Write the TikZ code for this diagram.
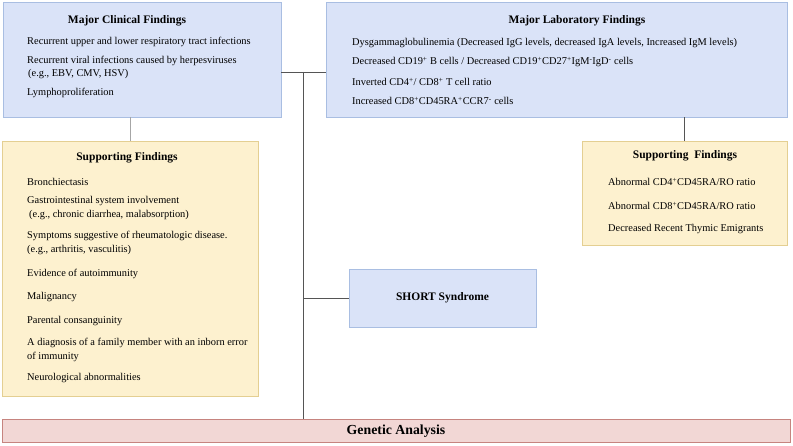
\documentclass[tikz,border=0pt]{standalone}
\usepackage{fontspec}
\setmainfont{Liberation Serif}
\usetikzlibrary{positioning, calc}

\definecolor{majorfill}{HTML}{DAE3F8}
\definecolor{majorline}{HTML}{A9BEE2}
\definecolor{suppfill}{HTML}{FDF1CF}
\definecolor{suppline}{HTML}{E4CF92}
\definecolor{genfill}{HTML}{F2D7D5}
\definecolor{genline}{HTML}{C6847F}
\definecolor{wire}{HTML}{555555}

\tikzset{
  box/.style={draw, rectangle, inner sep=0pt, line width=0.8pt},
  major/.style={box, fill=majorfill, draw=majorline},
  supp/.style={box, fill=suppfill, draw=suppline},
  title/.style={font=\fontsize{11.5}{13}\selectfont\bfseries},
  item/.style={anchor=west, inner sep=0pt, font=\fontsize{10.4}{12}\selectfont},
  wireline/.style={draw=wire, line width=0.7pt}
}

\begin{document}
\begin{tikzpicture}[x=1pt, y=-1pt]
\useasboundingbox (0,0) rectangle (793,446);

% Major findings
\node[major, minimum width=278, minimum height=115] (clin) at (142,59.5) {};
\node[title] (clintitle) at (127,21) {Major Clinical Findings};
\node[item] (clin1) at (27,42) {Recurrent upper and lower respiratory tract infections};
\node[item] (clin2) at (27,61) {Recurrent viral infections caused by herpesviruses};
\node[item] (clin3) at (28,74) {(e.g., EBV, CMV, HSV)};
\node[item] (clin4) at (27,93) {Lymphoproliferation};

\node[major, minimum width=461, minimum height=115] (lab) at (556.5,59.5) {};
\node[title] (labtitle) at (577,21) {Major Laboratory Findings};
\node[item] (lab1) at (352,43) {Dysgammaglobulinemia (Decreased IgG levels, decreased IgA levels, Increased IgM levels)};
\node[item] (lab2) at (352,62) {Decreased CD19\textsuperscript{+} B cells / Decreased CD19\textsuperscript{+}CD27\textsuperscript{+}IgM\textsuperscript{-}IgD\textsuperscript{-} cells};
\node[item] (lab3) at (352,82) {Inverted CD4\textsuperscript{+}/ CD8\textsuperscript{+} T cell ratio};
\node[item] (lab4) at (352,101) {Increased CD8\textsuperscript{+}CD45RA\textsuperscript{+}CCR7\textsuperscript{-} cells};

% Supporting findings
\node[supp, minimum width=256, minimum height=255] (suppl) at (130,268.5) {};
\node[title] (suppltitle) at (127,158) {Supporting Findings};
\node[item] (sl1) at (27,182) {Bronchiectasis};
\node[item] (sl2) at (27,201) {Gastrointestinal system involvement};
\node[item] (sl3) at (29,215) {(e.g., chronic diarrhea, malabsorption)};
\node[item] (sl4) at (27,236) {Symptoms suggestive of rheumatologic disease.};
\node[item] (sl5) at (27,250) {(e.g., arthritis, vasculitis)};
\node[item] (sl6) at (27,274) {Evidence of autoimmunity};
\node[item] (sl7) at (27,297) {Malignancy};
\node[item] (sl8) at (27,321) {Parental consanguinity};
\node[item] (sl9) at (27,343) {A diagnosis of a family member with an inborn error};
\node[item] (sl10) at (27,357) {of immunity};
\node[item] (sl11) at (27,378) {Neurological abnormalities};

\node[supp, minimum width=205, minimum height=104] (suppr) at (684.5,193) {};
\node[title] (supprtitle) at (685,156) {Supporting\ \ Findings};
\node[item] (sr1) at (608,182) {Abnormal CD4\textsuperscript{+}CD45RA/RO ratio};
\node[item] (sr2) at (608,206) {Abnormal CD8\textsuperscript{+}CD45RA/RO ratio};
\node[item] (sr3) at (608,229) {Decreased Recent Thymic Emigrants};

% Syndrome and genetics
\node[major, minimum width=187, minimum height=58, title] (short) at (442.5,298) {SHORT Syndrome};
\node[box, fill=genfill, draw=genline, minimum width=788, minimum height=23] (gen) at (396,430.5) {};
\node[title, font=\fontsize{13.8}{15}\selectfont\bfseries] (gentitle) at (396,431) {Genetic Analysis};

% Connectors
\coordinate (hub) at (303,72);
\draw[wireline] (clin.east |- hub) -- (lab.west |- hub);
\draw[wireline] (hub) -- (hub |- gen.north);
\draw[wireline] (hub |- short.west) -- (short.west);
\draw[wireline, draw=gray!70] (suppl.north |- clin.south) -- (suppl.north);
\draw[wireline] (suppr.north |- lab.south) -- (suppr.north);
\end{tikzpicture}
\end{document}
